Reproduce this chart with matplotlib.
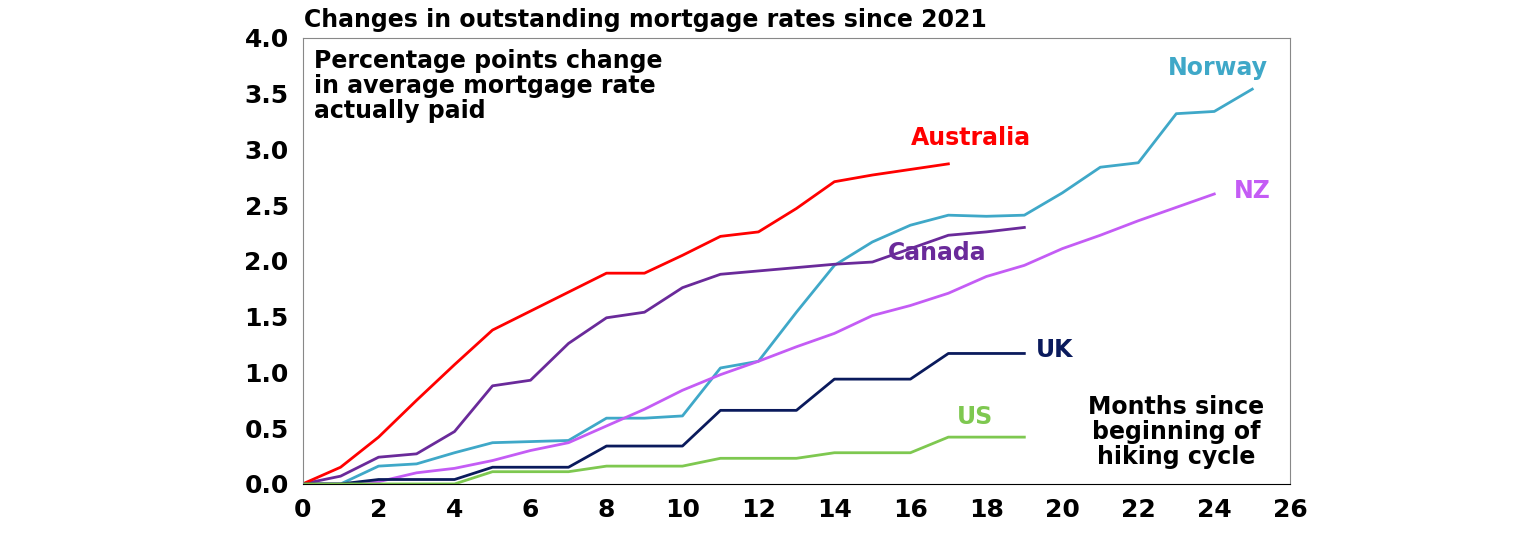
import matplotlib
matplotlib.use("Agg")
import matplotlib.pyplot as plt

plt.rcParams["font.family"] = "DejaVu Sans"
plt.rcParams["font.weight"] = "bold"

months_au = list(range(18))
australia = [0, 0.15, 0.42, 0.75, 1.07, 1.38, 1.55, 1.72, 1.89, 1.89, 2.05, 2.22, 2.26, 2.47, 2.71, 2.77, 2.82, 2.87]
months_19 = list(range(20))
canada = [0, 0.07, 0.24, 0.27, 0.47, 0.88, 0.93, 1.26, 1.49, 1.54, 1.76, 1.88, 1.91, 1.94, 1.97, 1.99, 2.11, 2.23, 2.26, 2.30]
uk = [0, 0, 0.04, 0.04, 0.04, 0.15, 0.15, 0.15, 0.34, 0.34, 0.34, 0.66, 0.66, 0.66, 0.94, 0.94, 0.94, 1.17, 1.17, 1.17]
us = [0, 0, 0, 0, 0, 0.11, 0.11, 0.11, 0.16, 0.16, 0.16, 0.23, 0.23, 0.23, 0.28, 0.28, 0.28, 0.42, 0.42, 0.42]
months_no = list(range(26))
norway = [0, 0, 0.16, 0.18, 0.28, 0.37, 0.38, 0.39, 0.59, 0.59, 0.61, 1.04, 1.10, 1.54, 1.96, 2.17, 2.32, 2.41, 2.40, 2.41, 2.61, 2.84, 2.88, 3.32, 3.34, 3.54]
months_nz = list(range(25))
nz = [0, 0, 0.02, 0.10, 0.14, 0.21, 0.30, 0.37, 0.52, 0.67, 0.84, 0.98, 1.10, 1.23, 1.35, 1.51, 1.60, 1.71, 1.86, 1.96, 2.11, 2.23, 2.36, 2.48, 2.60]

fig = plt.figure(figsize=(15.36, 5.33), dpi=100)
ax = fig.add_axes([0.197, 0.092, 0.643, 0.837])

ax.plot(months_no, norway, color="#3fa8c8", lw=2)
ax.plot(months_nz, nz, color="#c45cf5", lw=2)
ax.plot(months_19, canada, color="#6a2a9a", lw=2)
ax.plot(months_au, australia, color="#ff0000", lw=2)
ax.plot(months_19, uk, color="#0a1a5c", lw=2)
ax.plot(months_19, us, color="#7ec850", lw=2)

ax.set_xlim(0, 26)
ax.set_ylim(0, 4)
ax.set_xticks(range(0, 27, 2))
ax.set_yticks([i * 0.5 for i in range(9)])
ax.set_yticklabels([f"{i * 0.5:.1f}" for i in range(9)])
ax.tick_params(labelsize=18, length=0, pad=10)
for s in ax.spines.values():
    s.set_color("#888888")
    s.set_linewidth(0.8)
ax.spines["bottom"].set_color("#000000")

fs = 17
ax.text(0.3, 3.90, "Percentage points change\nin average mortgage rate\nactually paid", fontsize=fs,
        va="top", ha="left", linespacing=1.05)
ax.text(25.4, 3.73, "Norway", color="#3fa8c8", fontsize=fs, ha="right", va="center")
ax.text(17.6, 3.10, "Australia", color="#ff0000", fontsize=fs, ha="center", va="center")
ax.text(25.0, 2.63, "NZ", color="#c45cf5", fontsize=fs, ha="center", va="center")
ax.text(16.7, 2.07, "Canada", color="#6a2a9a", fontsize=fs, ha="center", va="center")
ax.text(19.8, 1.20, "UK", color="#0a1a5c", fontsize=fs, ha="center", va="center")
ax.text(17.7, 0.60, "US", color="#7ec850", fontsize=fs, ha="center", va="center")
ax.text(23.0, 0.80, "Months since\nbeginning of\nhiking cycle", fontsize=fs, ha="center", va="top",
        linespacing=1.05)
fig.text(0.42, 0.962, "Changes in outstanding mortgage rates since 2021", fontsize=17,
         ha="center", va="center")

fig.savefig("out.png", dpi=100)
